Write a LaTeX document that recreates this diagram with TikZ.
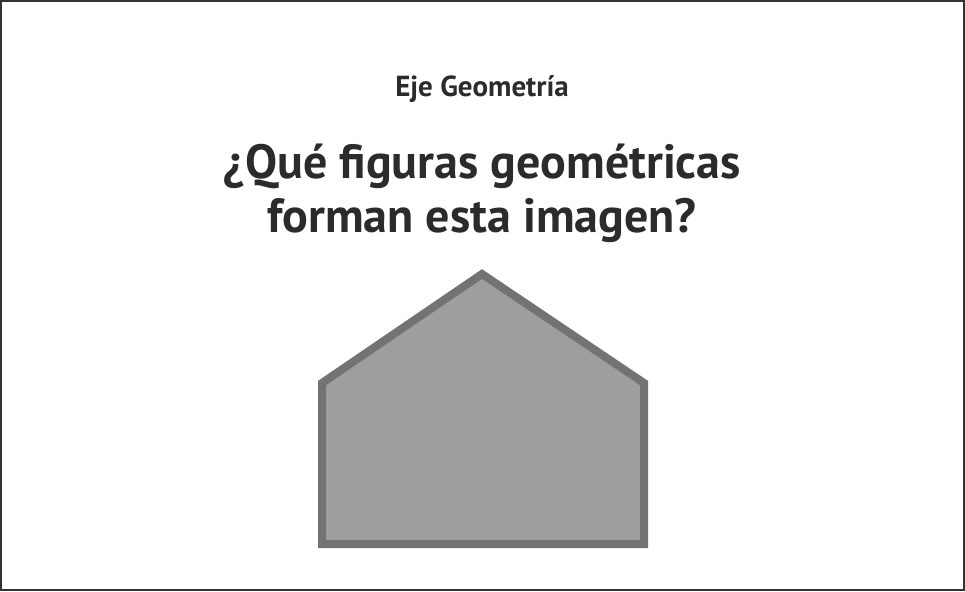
\documentclass[tikz,border=0pt]{standalone}
\usepackage{fontspec}
\setmainfont{PT Sans}
\usepackage{xcolor}
\usepackage{tikz}
\definecolor{TextDark}{HTML}{2B2B2B}
\definecolor{FrameDark}{HTML}{333333}
\definecolor{ShapeLine}{HTML}{737373}
\definecolor{ShapeFill}{HTML}{9D9E9D}

\begin{document}
\begin{tikzpicture}[x=1pt, y=-1pt,
        every node/.style={text=TextDark, font=\bfseries},
        subtitle/.style={font=\fontsize{29}{34}\selectfont\bfseries, anchor=base},
        question/.style={font=\fontsize{48}{56}\selectfont\bfseries, anchor=base, align=center},
        house/.style={draw=ShapeLine, fill=ShapeFill, line width=8pt, miter limit=10},
      ]

      % Frame
      \draw[draw=FrameDark, line width=2pt, fill=white] (1,1) rectangle (964,590);
      \useasboundingbox (0,0) rectangle (965,591);

      % Texts
      \node[subtitle] (eje) at (482, 97) {Eje Geometría};
      \node[question] (q1) at (482, 178) {¿Qué figuras geométricas};
      \node[question] (q2) at (482, 232) {forman esta imagen?};

      % Pentagon
      \coordinate (bl)  at (322, 544);
      \coordinate (br)  at (644, 544);
      \coordinate (sr)  at (644, 383);
      \coordinate (top) at (482, 274);
      \coordinate (sl)  at (322, 383);
      \draw[house] (bl) -- (br) -- (sr) -- (top) -- (sl) -- cycle;

    \end{tikzpicture}
\end{document}
